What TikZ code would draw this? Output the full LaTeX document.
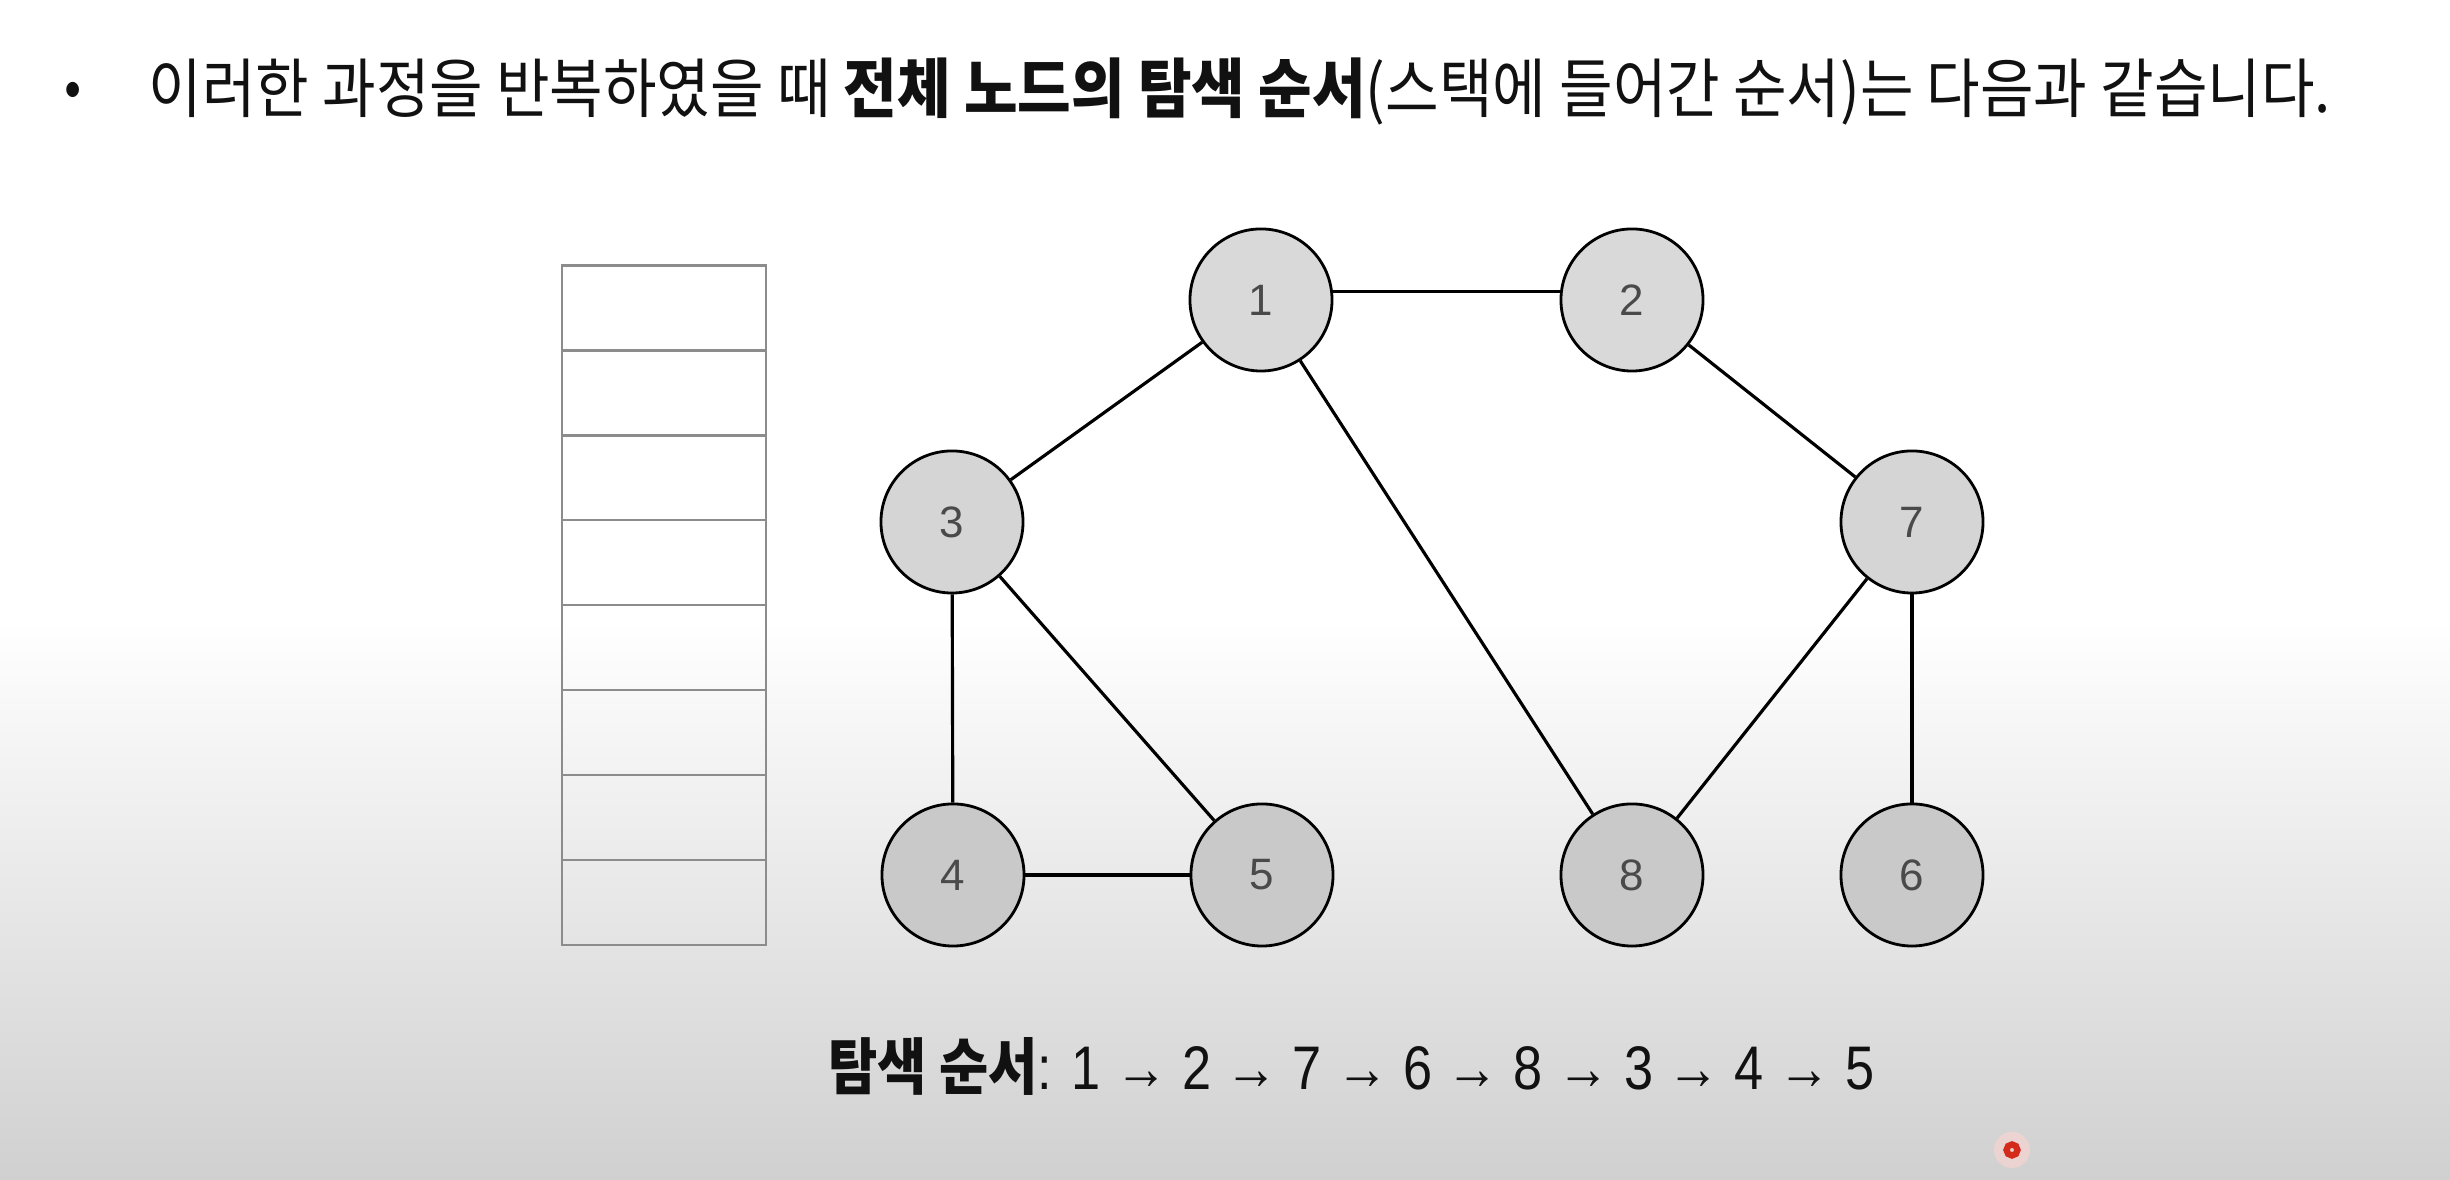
\documentclass[tikz,border=0pt]{standalone}
\usepackage{fontspec}
\setmainfont{Noto Sans CJK KR}
\newfontfamily\headfont[FakeStretch=0.9]{Noto Sans CJK KR}
\newfontfamily\orderfont[FakeStretch=0.87]{Noto Sans CJK KR}
\newfontfamily\numfont{Liberation Sans}
\newfontfamily\ordernum[FakeStretch=0.85]{Liberation Sans}
\usetikzlibrary{positioning}
\definecolor{Ink}{HTML}{111111}
\definecolor{NodeText}{HTML}{4A4A4A}
\definecolor{NodeTop}{HTML}{D9D9D9}
\definecolor{NodeMid}{HTML}{D5D5D5}
\definecolor{NodeLow}{HTML}{C9C9C9}
\definecolor{StackLine}{HTML}{8C8C8C}
\definecolor{Shade}{HTML}{D0D0D0}
\definecolor{Cursor}{HTML}{D42A1C}

\begin{document}
\begin{tikzpicture}[
    x=0.01cm, y=0.01cm,
    vertex/.style={circle, draw=black, line width=0.8pt, fill=NodeTop, minimum size=1.42cm, inner sep=0pt, font=\numfont\fontsize{12.5}{14}\selectfont, text=NodeText},
    midvertex/.style={vertex, fill=NodeMid},
    lowvertex/.style={vertex, fill=NodeLow},
    cell/.style={rectangle, draw=StackLine, line width=0.65pt, minimum width=2.04cm, minimum height=0.849cm, inner sep=0pt, outer sep=0pt},
    edge/.style={line width=0.9pt, color=black}
]
    % slide background
    \fill[white] (0,0) rectangle (2450,1180);
    \shade[top color=white, bottom color=Shade] (0,0) rectangle (2450,560);

    % heading
    \node[font=\headfont\fontsize{16}{18}\selectfont, text=Ink] (bullet) at (73,1086) {•};
    \node[anchor=west, font=\headfont\fontsize{18.4}{20}\selectfont, text=Ink, inner sep=0pt] (title) at (148,1088)
        {이러한 과정을 반복하였을 때 \textbf{전체 노드의 탐색 순서}(스택에 들어간 순서)는 다음과 같습니다.};

    % stack
    \node[cell] (s1) at (664,872) {};
    \node[cell, below=0pt of s1] (s2) {};
    \node[cell, below=0pt of s2] (s3) {};
    \node[cell, below=0pt of s3] (s4) {};
    \node[cell, below=0pt of s4] (s5) {};
    \node[cell, below=0pt of s5] (s6) {};
    \node[cell, below=0pt of s6] (s7) {};
    \node[cell, below=0pt of s7] (s8) {};

    % graph
    \node[vertex] (n1) at (1261,880) {1};
    \node[vertex] (n2) at (1632,880) {2};
    \node[midvertex] (n3) at (952,658) {3};
    \node[midvertex] (n7) at (1912,658) {7};
    \node[lowvertex] (n4) at (953,305) {4};
    \node[lowvertex] (n5) at (1262,305) {5};
    \node[lowvertex] (n8) at (1632,305) {8};
    \node[lowvertex] (n6) at (1912,305) {6};

    \draw[edge] (n1.7) -- (n2.173);
    \draw[edge] (n1) -- (n3);
    \draw[edge] (n1) -- (n8);
    \draw[edge] (n2) -- (n7);
    \draw[edge] (n3) -- (n4);
    \draw[edge] (n3) -- (n5);
    \draw[edge] (n4) -- (n5);
    \draw[edge] (n7) -- (n8);
    \draw[edge] (n7) -- (n6);

    % order
    \node[anchor=west, font=\orderfont\fontsize{17.5}{20}\selectfont, text=Ink, inner sep=0pt] (order) at (828,113)
        {\textbf{탐색 순서}{\ordernum: 1 → 2 → 7 → 6 → 8 → 3 → 4 → 5}};

    % pointer
    \fill[Cursor!20, opacity=0.7] (2012,30) circle (18);
    \draw[Cursor, line width=1.8pt] (2012,30) circle (5.5);
\end{tikzpicture}
\end{document}
